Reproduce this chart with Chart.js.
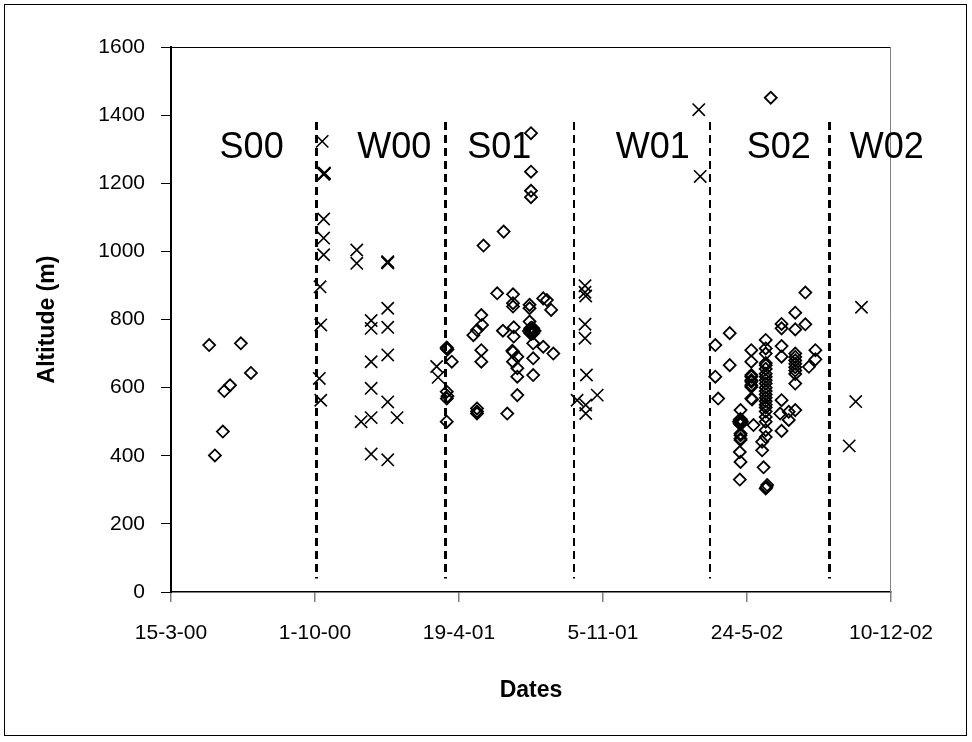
<!DOCTYPE html>
<html>
<head>
<meta charset="utf-8">
<script src="https://cdn.jsdelivr.net/npm/chart.js@4.4.0/dist/chart.umd.min.js"></script>
<style>
html,body{margin:0;padding:0;background:#fff;}
canvas{display:block;}
</style>
</head>
<body>
<canvas id="c" width="972" height="742"></canvas>
<script>
// x values are days counted from 15-3-00
const tickLabels = ['15-3-00','1-10-00','19-4-01','5-11-01','24-5-02','10-12-02'];

// Summer fixes (diamonds)
const summerDays = [
  53,97,111,82,74,72,61,
  383,384,383,390,383,383,384,383,
  420,425,431,432,431,431,425,425,425,
  434,453,461,462,467,
  475,475,475,476,476,475,474,481,475,481,481,481,
  498,498,498,500,500,500,500,
  499,501,503,500,502,504,497,505,501,501,499,503,499,503,
  503,503,503,517,522,517,528,531,
  756,756,760,776,776,
  791,790,791,792,790,791,789,793,791,791,790,792,
  791,791,791,791,790,791,790,
  806,806,806,806,806,806,806,806,807,806,
  809,
  826,826,826,826,826,826,826,826,826,826,826,826,826,826,826,826,826,826,826,826,826,826,
  821,821,823,828,826,827,
  848,848,848,848,848,846,848,
  858,858,867,
  867,867,867,867,867,867,867,867,867,867,
  881,881,886,895,895,
  833
];
const summerAlt = [
  725,730,643,607,590,471,401,
  715,712,718,676,588,568,575,500,
  754,769,813,784,710,676,539,530,524,
  1017,877,767,1058,524,
  874,848,838,777,750,705,708,691,676,657,632,578,
  843,833,794,1347,1234,1178,1159,
  770,767,764,762,772,768,766,766,758,776,760,774,774,760,
  730,686,637,862,857,720,828,700,
  725,632,568,760,666,
  534,505,500,497,495,503,500,500,492,508,496,504,
  465,460,450,446,411,382,330,
  710,676,637,632,622,617,607,602,565,568,
  490,
  740,715,700,672,666,655,641,632,622,612,600,590,580,570,560,550,542,530,514,500,475,455,
  441,416,366,314,304,308,
  787,774,722,691,563,524,473,
  505,529,534,
  820,771,700,690,680,670,660,650,640,612,
  879,786,661,710,683,
  1451
];

// Winter fixes (crosses)
const winterDays = [
  210,213,212,213,212,212,212,207,208,206,208,
  258,258,264,
  278,278,278,278,278,278,
  301,301,301,301,301,301,301,301,
  314,369,371,
  564,575,575,576,575,575,577,576,576,592,
  733,735,
  942,951,959
];
const winterAlt = [
  1323,1230,1226,1228,1095,1039,990,896,784,627,563,
  1004,965,500,
  797,774,676,598,512,405,
  968,966,970,833,777,696,558,388,
  512,662,630,
  563,899,880,869,786,745,637,549,524,578,
  1416,1220,
  429,559,836
];

// Season boundaries and labels
const boundaryDays = [202,380,560,748,914];
const boundaryWidths = [3,3,2,2,3];
const seasonNames = ['S00','W00','S01','W01','S02','W02'];
const seasonLabelDays = [112,310,456,669,844,994];

const FONT = "'Liberation Sans', Arial, sans-serif";

const summerData = summerDays.map((d,i)=>({x:d,y:summerAlt[i]}));
const winterData = winterDays.map((d,i)=>({x:d,y:winterAlt[i]}));

const decor = {
  id:'decor',
  beforeDraw(chart){
    const ctx = chart.ctx;
    ctx.save();
    ctx.fillStyle='#fff';
    ctx.fillRect(0,0,chart.width,chart.height);
    ctx.strokeStyle='#000';
    ctx.lineWidth=1;
    ctx.strokeRect(4.5,4.5,962,731);
    ctx.restore();
  },
  beforeDatasetsDraw(chart){
    const ctx = chart.ctx, a = chart.chartArea, xs = chart.scales.x, ys = chart.scales.y;
    ctx.save();
    // plot frame
    ctx.strokeStyle='#000';
    ctx.lineWidth=1;
    ctx.beginPath();
    ctx.moveTo(a.left, a.top+0.5); ctx.lineTo(a.right, a.top+0.5);
    ctx.stroke();
    ctx.strokeStyle='#808080';
    ctx.beginPath();
    ctx.moveTo(a.right-0.5, a.top); ctx.lineTo(a.right-0.5, a.bottom);
    ctx.stroke();
    // season boundaries
    ctx.strokeStyle='#000';
    ctx.setLineDash([8,5]);
    boundaryDays.forEach((d,i)=>{
      const x = Math.round(xs.getPixelForValue(d)) + (boundaryWidths[i]%2 ? 0.5 : 0);
      ctx.lineWidth = boundaryWidths[i];
      ctx.beginPath();
      ctx.moveTo(x, ys.getPixelForValue(1380));
      ctx.lineTo(x, ys.getPixelForValue(40));
      ctx.stroke();
    });
    ctx.setLineDash([]);
    // season labels
    ctx.fillStyle='#000';
    ctx.font = '36px ' + FONT;
    ctx.textAlign='center';
    ctx.textBaseline='alphabetic';
    seasonNames.forEach((n,i)=>{
      ctx.fillText(n, xs.getPixelForValue(seasonLabelDays[i]), ys.getPixelForValue(1275));
    });
    ctx.restore();
  }
};

new Chart(document.getElementById('c'), {
  type:'scatter',
  data:{
    datasets:[
      {label:'Summer', data:summerData, pointStyle:'rectRot', pointRadius:6, pointBorderWidth:1.8,
       borderColor:'#000', backgroundColor:'rgba(0,0,0,0)', showLine:false},
      {label:'Winter', data:winterData, pointStyle:'crossRot', pointRadius:8.7, pointBorderWidth:1.6,
       borderColor:'#000', backgroundColor:'rgba(0,0,0,0)', showLine:false}
    ]
  },
  options:{
    responsive:false,
    animation:false,
    events:[],
    layout:{padding:{left:0,top:47,right:81,bottom:0}},
    plugins:{legend:{display:false}, tooltip:{enabled:false}},
    scales:{
      x:{
        type:'linear', min:0, max:1000,
        afterFit(s){ s.height = 150; },
        ticks:{stepSize:200, autoSkip:false, maxRotation:0, padding:19, color:'#000',
               font:{family:FONT, size:21},
               callback:(v)=>tickLabels[Math.round(v/200)]},
        grid:{display:true, drawOnChartArea:false, drawTicks:true, tickLength:10, color:'#808080', lineWidth:1.5},
        border:{display:true, color:'#000', width:1.5},
        title:{display:true, text:'Dates', color:'#000', font:{family:FONT, size:23, weight:'bold'},
               padding:{top:0,bottom:38}}
      },
      y:{
        min:0, max:1600,
        afterFit(s){ s.width = 171; },
        ticks:{stepSize:200, padding:16, color:'#000', font:{family:FONT, size:21},
               callback:(v)=>String(v)},
        grid:{display:true, drawOnChartArea:false, drawTicks:true, tickLength:10, color:'#000', lineWidth:1},
        border:{display:true, color:'#000', width:2},
        title:{display:true, text:'Altitude (m)', color:'#000', font:{family:FONT, size:23, weight:'bold'},
               padding:{top:34,bottom:0}}
      }
    }
  },
  plugins:[decor]
});
</script>
</body>
</html>
